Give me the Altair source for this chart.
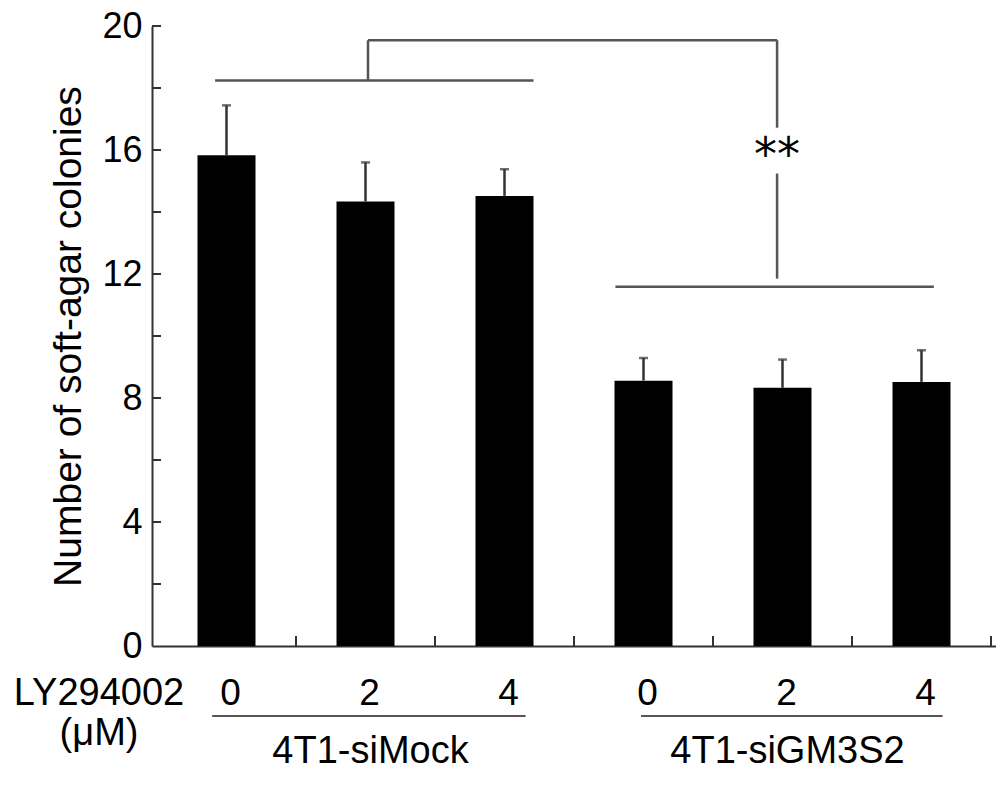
import altair as alt
import pandas as pd
import numpy as np

# ---- data ----
conc_labels = ["0", "2", "4", "0", "2", "4"]
groups = ["4T1-siMock"] * 3 + ["4T1-siGM3S2"] * 3
means = [15.83, 14.34, 14.52, 8.56, 8.33, 8.52]
upper = [17.44, 15.60, 15.38, 9.29, 9.24, 9.54]
y_ticks_major = [0, 4, 8, 12, 16, 20]
y_ticks_all = [2, 4, 6, 8, 10, 12, 14, 16, 18, 20]
group_names = ["4T1-siMock", "4T1-siGM3S2"]

FONT = "Liberation Sans"
H = 620

pos = list(np.arange(len(means)) + 0.5)
df = pd.DataFrame({"pos": pos, "mean": means, "upper": upper,
                   "conc": conc_labels, "group": groups})

xs = alt.Scale(domain=[0, 6], nice=False, zero=False)
ys = alt.Scale(domain=[0, 20], nice=False)

base = alt.Chart(df)

bars = base.mark_bar(color="black", size=58).encode(
    x=alt.X("pos:Q", scale=xs,
            axis=alt.Axis(labels=False, ticks=False, grid=False, title=None,
                          domainColor="#333333", domainWidth=2)),
    y=alt.Y("mean:Q", scale=ys,
            axis=alt.Axis(values=y_ticks_major, ticks=False, grid=False,
                          domainColor="#333333", domainWidth=2,
                          labelFont=FONT, labelFontSize=36, labelColor="black",
                          labelPadding=10,
                          title="Number of soft-agar colonies",
                          titleFont=FONT, titleFontSize=39, titleFontWeight="normal",
                          titleColor="black", titleAngle=270, titleX=-72, titleY=H / 2,
                          titleAlign="center", titleBaseline="alphabetic")),
)

err = base.mark_rule(color="#333333", strokeWidth=2.5).encode(
    x="pos:Q", y="mean:Q", y2="upper:Q")
caps = base.mark_tick(color="#333333", orient="horizontal", size=9, thickness=2.5).encode(
    x="pos:Q", y="upper:Q")

# inward axis ticks
ytick = alt.Chart(pd.DataFrame({"v": y_ticks_all})).mark_rule(
    color="#333333", strokeWidth=2).encode(
    y="v:Q", x=alt.value(0), x2=alt.value(9))
xtick = alt.Chart(pd.DataFrame({"v": [1, 2, 3, 4, 5, 6]})).mark_rule(
    color="#333333", strokeWidth=2).encode(
    x="v:Q", y=alt.value(H), y2=alt.value(H - 10))

# significance bracket (data units)
bracket = pd.DataFrame({
    "x1": [0.418, 1.518, 1.518, 4.461, 4.461, 3.298],
    "x2": [2.709, 1.518, 4.461, 4.461, 4.461, 5.589],
    "y1": [18.24, 18.24, 19.54, 19.54, 15.24, 11.59],
    "y2": [18.24, 19.54, 19.54, 16.72, 11.85, 11.59],
})
br = alt.Chart(bracket).mark_rule(color="#555555", strokeWidth=2.5).encode(
    x="x1:Q", x2="x2:Q", y="y1:Q", y2="y2:Q")
stars = alt.Chart(pd.DataFrame({"x": [4.461], "y": [15.35], "t": ["**"]})).mark_text(
    font="DejaVu Sans", fontSize=46, baseline="alphabetic", align="center", color="black"
).encode(x="x:Q", y="y:Q", text="t:N")

# x category labels
conc_text = base.mark_text(font=FONT, fontSize=37, baseline="alphabetic",
                           align="center", color="black", dx=4).encode(
    x="pos:Q", y=alt.value(H + 59), text="conc:N")

gdf = pd.DataFrame({"group": group_names,
                    "c": [np.mean(pos[:3]), np.mean(pos[3:])],
                    "u1": [0.397, 3.482], "u2": [2.652, 5.652]})
glabel = alt.Chart(gdf).mark_text(font=FONT, fontSize=38, baseline="alphabetic",
                                  align="center", color="black", dx=5).encode(
    x="c:Q", y=alt.value(H + 117), text="group:N")
gline = alt.Chart(gdf).mark_rule(color="#555555", strokeWidth=2).encode(
    x="u1:Q", x2="u2:Q", y=alt.value(H + 70))

side = alt.Chart(pd.DataFrame({"t": ["LY294002", "(μM)"], "yy": [H + 59, H + 99]})).mark_text(
    font=FONT, fontSize=38, baseline="alphabetic", align="center", color="black").encode(
    x=alt.value(-53), y=alt.Y("yy:Q", scale=None), text="t:N")

chart = alt.layer(bars, err, caps, ytick, xtick, br, stars, conc_text, glabel, gline, side).properties(
    width=844, height=H,
    autosize=alt.AutoSizeParams(type="none"),
    padding={"left": 144, "top": 18, "right": 0, "bottom": 128},
).configure_view(stroke=None)

chart.save("out.html", embed_options={"renderer": "svg", "actions": False})
